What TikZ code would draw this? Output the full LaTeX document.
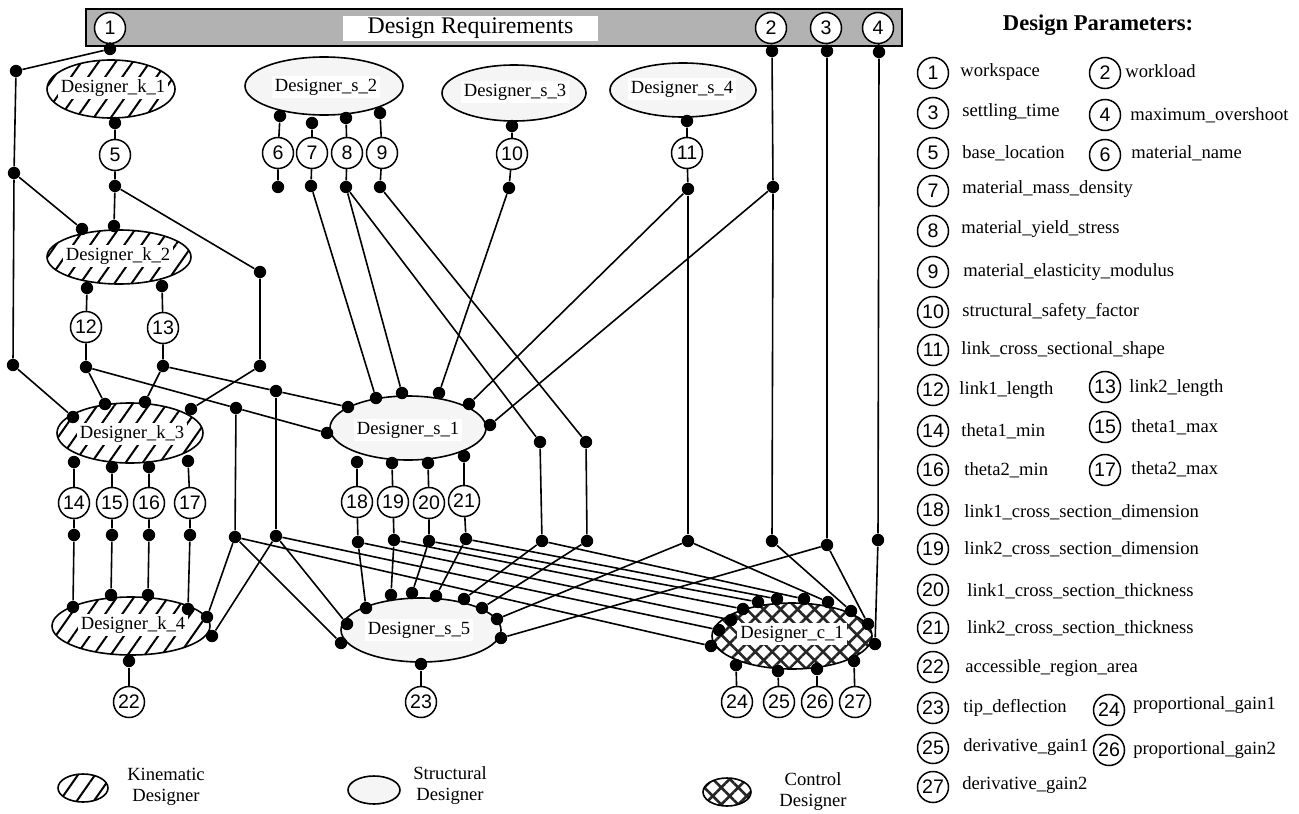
\documentclass[tikz,border=0pt]{standalone}
\usepackage{fontspec}
\setmainfont{Liberation Serif}
\newfontfamily\numfont{Liberation Sans}
\usetikzlibrary{shapes.geometric,patterns.meta}
\begin{document}
\begin{tikzpicture}[x=0.5pt,y=-0.5pt,
  wire/.style={line width=0.8pt},
  pnum/.style={circle,draw,line width=0.75pt,fill=white,minimum size=15.5pt,inner sep=0pt,font={\numfont\fontsize{9.8}{10}\selectfont}},
  dot/.style={circle,fill=black,inner sep=0pt,minimum size=6.2pt},
  dsg/.style={ellipse,draw,line width=0.8pt,inner sep=0pt},
  kin/.style={dsg,pattern={Lines[angle=55,distance=7pt,line width=1pt]}},
  stru/.style={dsg,fill=black!4},
  ctrl/.style={dsg,pattern={Hatch[angle=45,distance=6pt,line width=1.3pt]},pattern color=black!85},
  lbl/.style={fill=white,inner sep=1.5pt,font=\fontsize{9.3}{11}\selectfont},
  plbl/.style={anchor=west,inner sep=0pt,font=\fontsize{9.3}{11}\selectfont},
  leg/.style={align=center,inner sep=0pt,font=\fontsize{9.3}{10.5}\selectfont},
]
\useasboundingbox (0,0) rectangle (1299,813);

% ---------- requirements bar ----------
\node[draw,fill=gray!60,line width=0.75pt,minimum width=408pt,minimum height=18.5pt,inner sep=0pt] (bar) at (494,27.5) {};
\node[fill=white,minimum width=127.5pt,minimum height=12.5pt,inner sep=0pt,font=\fontsize{11.9}{13}\selectfont] (req) at (470.5,28.5) {Design Requirements};
\node[pnum] (c1) at (110,28) {1};
\node[pnum] (c2) at (771,28) {2};
\node[pnum] (c3) at (826,28) {3};
\node[pnum] (c4) at (878,28) {4};

% ---------- designers ----------
\node[kin,minimum width=64pt,minimum height=29pt] (k1) at (111,89) {};
\node[kin,minimum width=72pt,minimum height=27pt] (k2) at (119,257) {};
\node[kin,minimum width=73pt,minimum height=30pt] (k3) at (130,433) {};
\node[kin,minimum width=79pt,minimum height=29pt] (k4) at (131,626) {};
\node[stru,minimum width=79pt,minimum height=29pt] (s2) at (324,86) {};
\node[stru,minimum width=72pt,minimum height=28pt] (s3) at (514,93) {};
\node[stru,minimum width=73pt,minimum height=27pt] (s4) at (683,90) {};
\node[stru,minimum width=78pt,minimum height=32pt] (s1) at (408,428) {};
\node[stru,minimum width=80pt,minimum height=32pt] (s5) at (421,630) {};
\node[ctrl,minimum width=80pt,minimum height=33pt] (cc1) at (792,636) {};

\node[lbl] (k1t) at (113,88) {Designer\_k\_1};
\node[lbl] (k2t) at (118,256) {Designer\_k\_2};
\node[lbl] (k3t) at (132,434) {Designer\_k\_3};
\node[lbl] (k4t) at (133,625) {Designer\_k\_4};
\node[lbl] (s2t) at (326,87) {Designer\_s\_2};
\node[lbl] (s3t) at (515,92) {Designer\_s\_3};
\node[lbl] (s4t) at (682,89) {Designer\_s\_4};
\node[lbl] (s1t) at (408,430) {Designer\_s\_1};
\node[lbl] (s5t) at (419,630) {Designer\_s\_5};
\node[lbl] (cc1t) at (792,634) {Designer\_c\_1};

% ---------- parameter circles ----------
\node[pnum] (c5) at (115,155) {5};
\node[pnum] (c6) at (278,153) {6};
\node[pnum] (c7) at (312,153) {7};
\node[pnum] (c8) at (347,153) {8};
\node[pnum] (c9) at (382,153) {9};
\node[pnum] (c10) at (512,154) {10};
\node[pnum] (c11) at (687,153) {11};
\node[pnum] (c12) at (86,327) {12};
\node[pnum] (c13) at (163,328) {13};
\node[pnum] (c14) at (74,503) {14};
\node[pnum] (c15) at (112,503) {15};
\node[pnum] (c16) at (149,503) {16};
\node[pnum] (c17) at (190,503) {17};
\node[pnum] (c18) at (357,502) {18};
\node[pnum] (c19) at (393,502) {19};
\node[pnum] (c20) at (429,503) {20};
\node[pnum] (c21) at (464,501) {21};
\node[pnum] (c22) at (129,702) {22};
\node[pnum] (c23) at (421,702) {23};
\node[pnum] (c24) at (737,702) {24};
\node[pnum] (c25) at (779,702) {25};
\node[pnum] (c26) at (817,702) {26};
\node[pnum] (c27) at (855,702) {27};

% ---------- dots ----------
\foreach \n/\x/\y in {t1/110/49,t2/772/51,t3/827/51,t4/879/52,
  L1/16/71,L2/14/173,L3/13/365,
  k1b/115/123,d5/115/186,k2a/82/229,k2b/114/226,R1/260/272,R2/260/366,
  k2c/87/288,k2d/162/286,d12/86/367,d13/163/366,
  k3L/73/417,k3a/105/404,k3b/145/402,k3c/191/409,
  br12/236/408,br13/276/391,b12/235/537,b13/276/536,
  k3e/74/462,k3f/112/467,k3g/149/467,k3h/188/461,
  d14/74/535,d15/112/535,d16/149/535,d17/190/535,
  k4a/73/607,k4b/111/595,k4c/148/595,k4d/188/609,k4e/207/617,k4f/212/636,k4g/129/661,
  s2a/280/116,s2b/312/123,s2c/346/118,s2d/380/113,
  d6/278/187,d7/311/186,d8/346/187,d9/380/187,
  s3a/512/126,d10/509/188,s4a/687/121,d11/688/189,m2/773/187,
  v8/540/442,v9/586/442,w8/542/541,w9/587/541,w11/688/541,w2/772/541,w3/827/545,w4/878/540,
  s1a/348/407,s1b/376/398,s1c/402/393,s1d/439/393,s1e/469/404,s1f/490/425,s1g/327/433,
  s1h/357/462,s1i/392/463,s1j/428/463,s1k/464/456,
  d18/358/542,d19/394/540,d20/429/541,d21/466/539,
  s5a/366/608,s5b/391/595,s5c/412/593,s5d/436/596,s5e/464/599,s5f/482/608,s5g/497/619,s5h/501/638,s5i/347/624,s5j/341/643,s5k/421/664,
  cA/711/646,cB/719/630,cC/731/620,cD/743/609,cE/758/602,cF/777/599,cG/804/599,cH/828/602,cI/851/611,cJ/868/624,cK/875/644,
  cL/736/665,cM/778/671,cN/817/669,cO/854/661}
  {\node[dot] (\n) at (\x,\y) {};}

% ---------- connectors ----------
\begin{scope}[wire]
\draw (c1)--(t1)--(L1)--(L2)--(L3)--(k3L);
\draw (L2)--(k2a);
\draw (k1b)--(c5)--(d5)--(k2b);
\draw (d5)--(R1)--(R2)--(k3c);
\draw (k2c)--(c12)--(d12)--(k3a);
\draw (k2d)--(c13)--(d13)--(k3b);
\draw (d12)--(br12)--(s1g);
\draw (d13)--(br13)--(s1a);
\draw (br12)--(b12);
\draw (br13)--(b13);
\draw (k3e)--(c14)--(d14)--(k4a);
\draw (k3f)--(c15)--(d15)--(k4b);
\draw (k3g)--(c16)--(d16)--(k4c);
\draw (k3h)--(c17)--(d17)--(k4d);
\draw (b12)--(k4e);
\draw (b13)--(k4f);
\draw (b12)--(s5j);
\draw (b13)--(s5i);
\draw (b12)--(cA);
\draw (b13)--(cB);
\draw (k4g)--(c22);
\draw (s2a)--(c6)--(d6);
\draw (s2b)--(c7)--(d7)--(s1b);
\draw (s2c)--(c8)--(d8)--(s1c);
\draw (d8)--(v8)--(w8);
\draw (s2d)--(c9)--(d9)--(v9)--(w9);
\draw (s3a)--(c10)--(d10)--(s1d);
\draw (s4a)--(c11)--(d11)--(s1e);
\draw (d11)--(w11);
\draw (c2)--(t2)--(m2)--(w2);
\draw (m2)--(s1f);
\draw (c3)--(t3)--(w3);
\draw (c4)--(t4)--(w4)--(cK);
\draw (s1h)--(c18)--(d18)--(s5a);
\draw (s1i)--(c19)--(d19)--(s5b);
\draw (s1j)--(c20)--(d20)--(s5c);
\draw (s1k)--(c21)--(d21)--(s5d);
\draw (w8)--(s5e);
\draw (w9)--(s5f);
\draw (w11)--(s5g);
\draw (w3)--(s5h);
\draw (d18)--(cC);
\draw (d19)--(cD);
\draw (d20)--(cE);
\draw (d21)--(cF);
\draw (w8)--(cG);
\draw (w11)--(cH);
\draw (w2)--(cI);
\draw (w3)--(cJ);
\draw (s5k)--(c23);
\draw (cL)--(c24);
\draw (cM)--(c25);
\draw (cN)--(c26);
\draw (cO)--(c27);
\end{scope}

% ---------- bottom legend ----------
\node[kin,minimum width=25pt,minimum height=14pt] (lk) at (83,788) {};
\node[leg] (lkt) at (166,787) {Kinematic\\Designer};
\node[stru,minimum width=26pt,minimum height=14pt] (ls) at (374,790) {};
\node[leg] (lst) at (450,786) {Structural\\Designer};
\node[ctrl,minimum width=24pt,minimum height=14pt] (lc) at (727,792) {};
\node[leg] (lct) at (813,792) {Control\\Designer};

% ---------- parameter legend ----------
\node[font=\bfseries\fontsize{11.3}{13}\selectfont] (dp) at (1098,25) {Design Parameters:};
\node[pnum] (p1) at (933,73) {1};    \node[plbl] (p1t) at (960,72) {workspace};
\node[pnum] (p2) at (1105,73) {2};   \node[plbl] (p2t) at (1125,71) {workload};
\node[pnum] (p3) at (933,113) {3};   \node[plbl] (p3t) at (962,112) {settling\_time};
\node[pnum] (p4) at (1105,115) {4};  \node[plbl] (p4t) at (1130,115) {maximum\_overshoot};
\node[pnum] (p5) at (933,153) {5};   \node[plbl] (p5t) at (962,153) {base\_location};
\node[pnum] (p6) at (1105,155) {6};  \node[plbl] (p6t) at (1131,153) {material\_name};
\node[pnum] (p7) at (933,191) {7};   \node[plbl] (p7t) at (962,189) {material\_mass\_density};
\node[pnum] (p8) at (933,231) {8};   \node[plbl] (p8t) at (961,229) {material\_yield\_stress};
\node[pnum] (p9) at (933,272) {9};   \node[plbl] (p9t) at (963,272) {material\_elasticity\_modulus};
\node[pnum] (p10) at (933,312) {10}; \node[plbl] (p10t) at (962,312) {structural\_safety\_factor};
\node[pnum] (p11) at (933,350) {11}; \node[plbl] (p11t) at (961,350) {link\_cross\_sectional\_shape};
\node[pnum] (p12) at (933,390) {12}; \node[plbl] (p12t) at (959,390) {link1\_length};
\node[pnum] (p13) at (1105,387) {13};\node[plbl] (p13t) at (1129,388) {link2\_length};
\node[pnum] (p14) at (933,431) {14}; \node[plbl] (p14t) at (961,431) {theta1\_min};
\node[pnum] (p15) at (1105,427) {15};\node[plbl] (p15t) at (1131,427) {theta1\_max};
\node[pnum] (p16) at (933,470) {16}; \node[plbl] (p16t) at (964,470) {theta2\_min};
\node[pnum] (p17) at (1105,470) {17};\node[plbl] (p17t) at (1131,469) {theta2\_max};
\node[pnum] (p18) at (933,510) {18}; \node[plbl] (p18t) at (964,512) {link1\_cross\_section\_dimension};
\node[pnum] (p19) at (933,549) {19}; \node[plbl] (p19t) at (964,549) {link2\_cross\_section\_dimension};
\node[pnum] (p20) at (933,590) {20}; \node[plbl] (p20t) at (967,591) {link1\_cross\_section\_thickness};
\node[pnum] (p21) at (933,628) {21}; \node[plbl] (p21t) at (967,628) {link2\_cross\_section\_thickness};
\node[pnum] (p22) at (933,667) {22}; \node[plbl] (p22t) at (965,668) {accessible\_region\_area};
\node[pnum] (p23) at (933,708) {23}; \node[plbl] (p23t) at (963,708) {tip\_deflection};
\node[pnum] (p24) at (1109,710) {24};\node[plbl] (p24t) at (1133,705) {proportional\_gain1};
\node[pnum] (p25) at (933,748) {25}; \node[plbl] (p25t) at (963,747) {derivative\_gain1};
\node[pnum] (p26) at (1109,750) {26};\node[plbl] (p26t) at (1133,750) {proportional\_gain2};
\node[pnum] (p27) at (933,787) {27}; \node[plbl] (p27t) at (962,785) {derivative\_gain2};
\end{tikzpicture}
\end{document}
